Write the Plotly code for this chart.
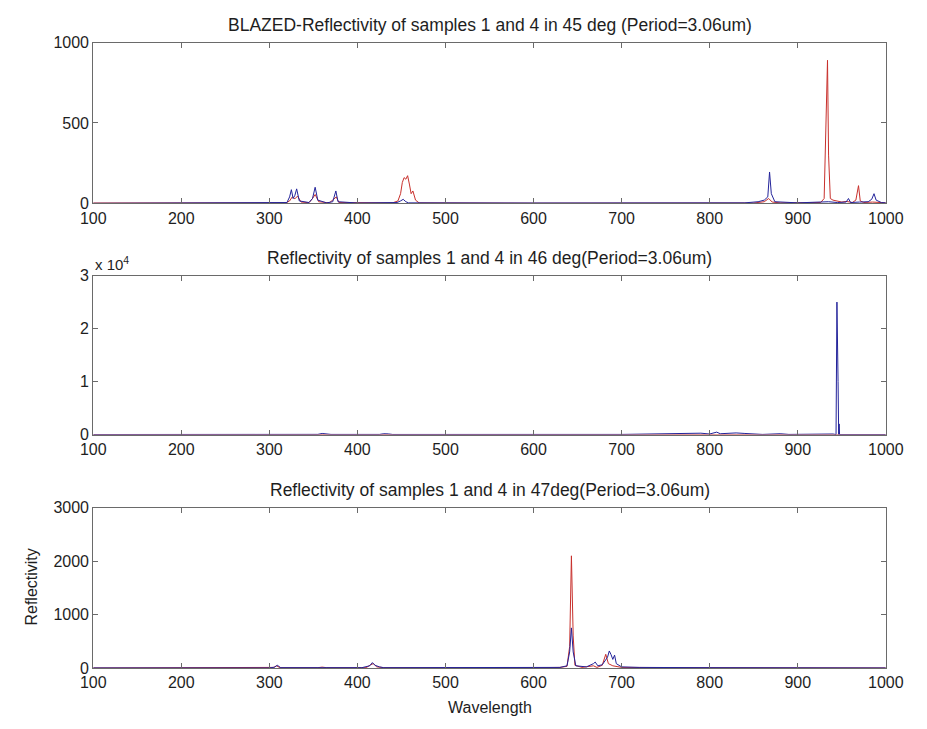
import plotly.graph_objects as go

# ---- reflectivity spectra: (wavelength, reflectivity) samples ----
RED_45 = [(100, 2), (300, 2), (319, 3), (323, 15), (326, 40), (329, 28), (332, 45), (336, 8),
          (345, 4), (349, 30), (352, 55), (356, 10), (368, 3), (373, 25), (376, 40), (379, 5),
          (440, 3), (446, 15), (449, 60), (451, 130), (453, 160), (455, 150), (457, 172),
          (459, 120), (461, 60), (463, 77), (466, 20), (470, 3), (600, 1), (850, 2), (862, 10),
          (867, 30), (871, 8), (880, 3), (926, 5), (930, 30), (932, 400), (933.8, 890),
          (935, 300), (937, 30), (940, 20), (945, 15), (950, 8), (955, 12), (962, 5),
          (966, 20), (969, 110), (971, 15), (975, 5), (985, 8), (990, 5), (1000, 3)]

BLUE_45 = [(100, 0), (300, 2), (320, 5), (323, 40), (325, 85), (327, 30), (329, 50), (331, 90),
           (334, 15), (345, 5), (349, 30), (352, 100), (355, 20), (365, 3), (372, 10),
           (375.5, 77), (378, 10), (400, 2), (445, 5), (449, 15), (452, 25), (455, 10),
           (458, 3), (600, 2), (840, 3), (855, 10), (862, 20), (866, 40), (868, 195), (870, 60),
           (874, 10), (900, 3), (925, 5), (935, 10), (945, 5), (955, 8), (957.6, 30), (960, 5),
           (970, 8), (980, 10), (984, 25), (986.6, 60), (989, 20), (995, 5), (1000, 3)]

RED_46 = [(100, 0), (300, 5), (360, 20), (430, 15), (600, 5), (780, 20), (810, 40),
          (850, 10), (940, 20), (944.5, 60), (948, 10), (1000, 0)]

BLUE_46 = [(100, 0), (300, 10), (308, 60), (312, 150), (316, 20), (355, 30), (360, 200),
           (365, 180), (370, 20), (425, 20), (430, 150), (435, 120), (440, 10), (700, 20),
           (760, 150), (770, 250), (780, 200), (790, 250), (800, 100), (808, 450), (812, 150),
           (820, 200), (830, 300), (840, 200), (850, 150), (860, 20), (880, 150), (890, 20),
           (940, 100), (943.5, 0), (944.5, 25000), (945.2, 20000), (945.8, 10000), (946.5, 0),
           (947, 2000), (947.5, 0), (960, 30), (990, 60), (1000, 0)]

RED_47 = [(100, 0), (300, 0), (305, 10), (308, 40), (312, 5), (355, 5), (360, 15), (365, 5),
          (410, 5), (415, 60), (418, 80), (422, 20), (430, 5), (600, 5), (630, 10), (638, 30),
          (641, 400), (643, 2100), (645, 600), (647, 50), (655, 10), (668, 40), (672, 10),
          (678, 50), (682, 256), (685, 80), (690, 40), (700, 10), (750, 5), (800, 5), (1000, 0)]

BLUE_47 = [(100, 0), (300, 0), (306, 15), (309, 50), (313, 5), (360, 10), (405, 5), (414, 40),
           (417, 100), (420, 50), (425, 20), (430, 5), (600, 5), (630, 10), (638, 40),
           (641, 300), (643, 750), (645, 300), (648, 40), (660, 20), (668, 80), (670, 110),
           (673, 40), (678, 60), (684, 200), (686, 318), (688, 250), (690, 160), (692, 240),
           (694, 80), (700, 20), (720, 10), (800, 5), (1000, 0)]

TITLES = ["BLAZED-Reflectivity of samples 1 and 4 in 45 deg (Period=3.06um)",
          "Reflectivity of samples 1 and 4 in 46 deg(Period=3.06um)",
          "Reflectivity of samples 1 and 4 in 47deg(Period=3.06um)"]

X_TICKS = [100, 200, 300, 400, 500, 600, 700, 800, 900, 1000]
Y_TICKS = [[0, 500, 1000], [0, 10000, 20000, 30000], [0, 1000, 2000, 3000]]
Y_TICKTEXT = [["0", "500", "1000"], ["0", "1", "2", "3"], ["0", "1000", "2000", "3000"]]
Y_RANGES = [[0, 1000], [0, 30000], [0, 3000]]

RED = "#c8302c"
BLUE = "#23239a"
AXIS = "#6a6a6a"
TEXT = "#1e1e1e"
FONT = "Liberation Sans, Arial, sans-serif"

W, H = 927, 729
# panel boxes in pixels: (left, right, top, bottom)
PANELS = [(83, 903, 35.4, 200), (83, 903, 274, 436.7), (83, 903, 511.7, 675.7)]


def px_x(p):
    return p / W


def px_y(p):
    return 1 - p / H


fig = go.Figure()
series = [(RED_45, BLUE_45), (RED_46, BLUE_46), (RED_47, BLUE_47)]
for i, (red, blue) in enumerate(series):
    xa = "x" if i == 0 else f"x{i + 1}"
    ya = "y" if i == 0 else f"y{i + 1}"
    for data, color in ((red, RED), (blue, BLUE)):
        xs, ys = zip(*data)
        fig.add_trace(go.Scatter(x=list(xs), y=list(ys), mode="lines",
                                 line=dict(color=color, width=1.0),
                                 xaxis=xa, yaxis=ya, showlegend=False,
                                 hoverinfo="skip"))

layout = dict(width=W, height=H, margin=dict(l=0, r=0, t=0, b=0),
              paper_bgcolor="white", plot_bgcolor="white",
              font=dict(family=FONT, size=16, color=TEXT), showlegend=False)

annotations = []
for i, (l, r, t, b) in enumerate(PANELS):
    sfx = "" if i == 0 else str(i + 1)
    layout["xaxis" + sfx] = dict(
        domain=[px_x(l), px_x(r)], range=[100, 1000], tickvals=X_TICKS,
        ticks="inside", ticklen=5, tickcolor=AXIS, showline=True, linecolor=AXIS,
        linewidth=1, mirror="ticks", showgrid=False, zeroline=False,
        anchor="y" + sfx, tickfont=dict(size=16, color=TEXT))
    layout["yaxis" + sfx] = dict(
        domain=[px_y(b), px_y(t)], range=Y_RANGES[i], tickvals=Y_TICKS[i],
        ticktext=Y_TICKTEXT[i], ticks="inside", ticklen=5, tickcolor=AXIS,
        showline=True, linecolor=AXIS, linewidth=1, mirror="ticks", showgrid=False,
        zeroline=False, anchor="x" + sfx, tickfont=dict(size=16, color=TEXT))
    annotations.append(dict(text=TITLES[i], x=px_x((l + r) / 2), y=px_y(t - 18),
                            xref="paper", yref="paper", showarrow=False,
                            xanchor="center", yanchor="middle",
                            font=dict(size=17.5, color=TEXT)))

annotations.append(dict(text="x 10<sup>4</sup>", x=px_x(83), y=px_y(262), xref="paper",
                        yref="paper", showarrow=False, xanchor="left", yanchor="middle",
                        font=dict(size=15, color=TEXT)))
annotations.append(dict(text="Wavelength", x=px_x(493), y=px_y(716), xref="paper",
                        yref="paper", showarrow=False, xanchor="center", yanchor="middle",
                        font=dict(size=16, color=TEXT)))
annotations.append(dict(text="Reflectivity", x=px_x(19), y=px_y(593), xref="paper",
                        yref="paper", showarrow=False, xanchor="center", yanchor="middle",
                        textangle=-90, font=dict(size=16, color=TEXT)))
layout["annotations"] = annotations

fig.update_layout(**layout)
fig.write_html("out.html")
